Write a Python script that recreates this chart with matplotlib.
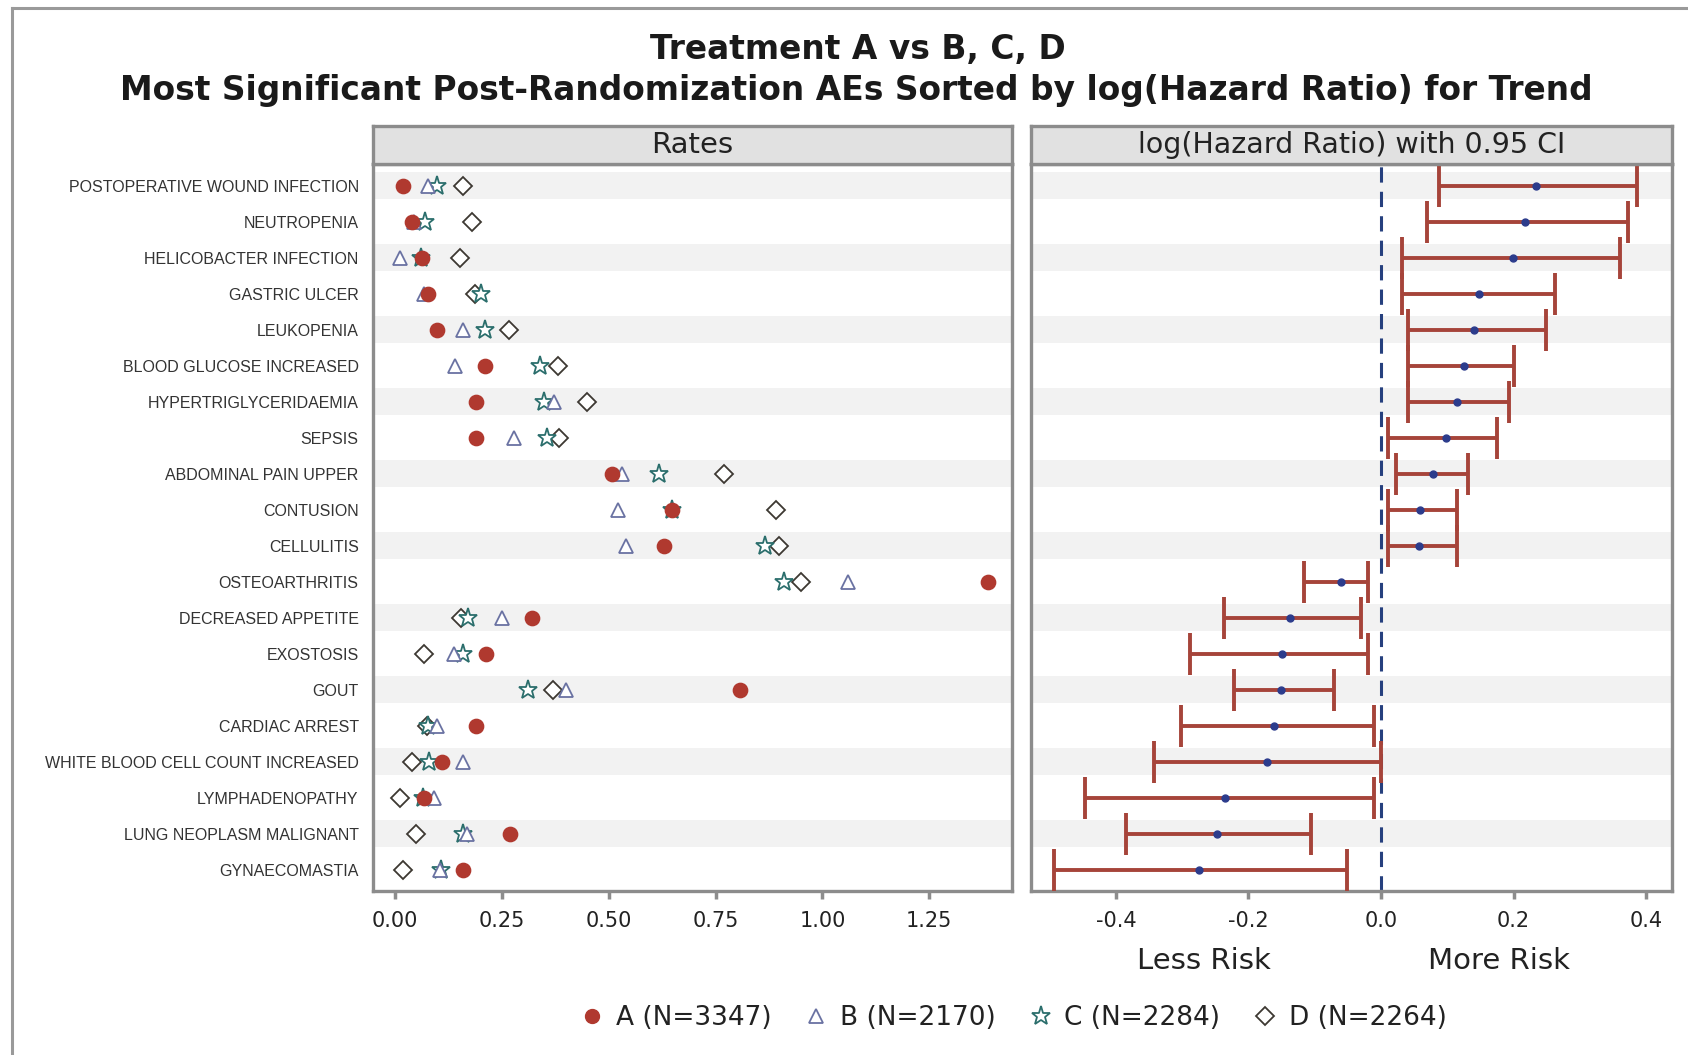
import numpy as np
import matplotlib
matplotlib.use("Agg")
import matplotlib.pyplot as plt
from matplotlib.lines import Line2D

# ---------------- data ----------------
labels = ["POSTOPERATIVE WOUND INFECTION", "NEUTROPENIA", "HELICOBACTER INFECTION",
          "GASTRIC ULCER", "LEUKOPENIA", "BLOOD GLUCOSE INCREASED",
          "HYPERTRIGLYCERIDAEMIA", "SEPSIS", "ABDOMINAL PAIN UPPER", "CONTUSION",
          "CELLULITIS", "OSTEOARTHRITIS", "DECREASED APPETITE", "EXOSTOSIS", "GOUT",
          "CARDIAC ARREST", "WHITE BLOOD CELL COUNT INCREASED", "LYMPHADENOPATHY",
          "LUNG NEOPLASM MALIGNANT", "GYNAECOMASTIA"]

rate_A = [0.018, 0.040, 0.062, 0.077, 0.098, 0.211, 0.189, 0.189, 0.508, 0.648,
          0.630, 1.388, 0.321, 0.212, 0.807, 0.188, 0.109, 0.067, 0.269, 0.159]
rate_B = [0.077, 0.045, 0.011, 0.067, 0.158, 0.141, 0.372, 0.279, 0.530, 0.522,
          0.540, 1.059, 0.249, 0.138, 0.400, 0.099, 0.158, 0.092, 0.167, 0.105]
rate_C = [0.099, 0.069, 0.060, 0.200, 0.211, 0.340, 0.349, 0.355, 0.618, 0.648,
          0.866, 0.909, 0.170, 0.159, 0.310, 0.077, 0.079, 0.065, 0.158, 0.108]
rate_D = [0.159, 0.180, 0.151, 0.187, 0.267, 0.382, 0.449, 0.384, 0.769, 0.891,
          0.899, 0.951, 0.154, 0.067, 0.369, 0.075, 0.040, 0.011, 0.049, 0.018]

hr_est = [0.234, 0.217, 0.199, 0.148, 0.141, 0.125, 0.115, 0.098, 0.078, 0.059,
          0.058, -0.060, -0.138, -0.150, -0.151, -0.161, -0.172, -0.235, -0.248, -0.274]
hr_lo = [0.088, 0.069, 0.032, 0.032, 0.041, 0.041, 0.041, 0.010, 0.022, 0.010,
         0.010, -0.116, -0.237, -0.288, -0.222, -0.302, -0.343, -0.446, -0.385, -0.494]
hr_hi = [0.387, 0.373, 0.361, 0.263, 0.249, 0.201, 0.193, 0.175, 0.131, 0.114,
         0.114, -0.019, -0.030, -0.019, -0.071, -0.010, 0.000, -0.010, -0.105, -0.051]

legend_labels = ["A (N=3347)", "B (N=2170)", "C (N=2284)", "D (N=2264)"]
rate_ticks = [0.0, 0.25, 0.5, 0.75, 1.0, 1.25]
hr_ticks = [-0.4, -0.2, 0.0, 0.2, 0.4]

# ---------------- style ----------------
plt.rcParams['font.family'] = ['DejaVu Sans']
FRAME = '#8c8c8c'
TXT = '#222222'
col_A = '#b0392f'
col_B = '#6a72a2'
col_C = '#2b6e6c'
col_D = '#3d3832'
BAND = '#f2f2f2'

fig = plt.figure(figsize=(16.88, 10.55), dpi=100)

ax1 = fig.add_axes([0.2207, 0.1551, 0.3789, 0.6895])
ax2 = fig.add_axes([0.6108, 0.1551, 0.3797, 0.6895])
y = np.arange(len(labels))

for ax in (ax1, ax2):
    ax.set_facecolor('white')
    for i in range(0, len(labels), 2):
        ax.axhspan(i - 0.37, i + 0.37, color=BAND, zorder=0, lw=0)
    ax.set_ylim(len(labels) - 0.4, -0.6)
    for s in ax.spines.values():
        s.set_color(FRAME)
        s.set_linewidth(2.4)
    ax.tick_params(axis='x', direction='out', length=6, width=2.5, color=FRAME,
                   labelcolor=TXT, labelsize=15, pad=8)

# left panel: rates
ms = dict(markeredgewidth=1.3, linestyle='none')
ax1.plot(rate_D, y, marker='D', ms=9, markerfacecolor='white', markeredgecolor=col_D, zorder=3, **ms)
ax1.plot(rate_C, y, marker='*', ms=14, markerfacecolor='white', markeredgecolor=col_C, zorder=4, **ms)
ax1.plot(rate_B, y, marker='^', ms=10, markerfacecolor='white', markeredgecolor=col_B, zorder=4, **ms)
ax1.plot(rate_A, y, marker='o', ms=10, markerfacecolor=col_A, markeredgecolor=col_A, zorder=5, **ms)
ax1.set_xlim(-0.053, 1.444)
ax1.set_xticks(rate_ticks)
ax1.set_xticklabels([f"{t:.2f}" for t in rate_ticks])
ax1.set_yticks(y)
ax1.set_yticklabels(labels, fontsize=11.5, color='#333333', family=['Liberation Sans', 'DejaVu Sans'])
ax1.tick_params(axis='y', length=0, pad=10)

# right panel: log hazard ratio
est = np.array(hr_est)
lo = np.array(hr_lo)
hi = np.array(hr_hi)
ax2.axvline(0, color='#26407e', lw=2.2, ls=(0, (5, 3)), zorder=2)
ax2.errorbar(est, y, xerr=[est - lo, hi - est], fmt='none', ecolor='#a6443a',
             elinewidth=2.8, capsize=15, capthick=2.8, zorder=3)
ax2.plot(est, y, 'o', ms=5, color='#2c3c8c', zorder=4)
ax2.set_xlim(-0.528, 0.439)
ax2.set_xticks(hr_ticks)
ax2.set_xticklabels([f"{abs(t):.1f}" if t == 0 else f"{t:.1f}" for t in hr_ticks])
ax2.set_yticks([])

# header strips
for ax, txt, fs in ((ax1, "Rates", 21), (ax2, "log(Hazard Ratio) with 0.95 CI", 20.5)):
    pos = ax.get_position()
    hx = fig.add_axes([pos.x0, pos.y1, pos.width, 0.036])
    hx.set_facecolor('#e1e1e1')
    hx.set_xticks([]); hx.set_yticks([])
    for s in hx.spines.values():
        s.set_color(FRAME)
        s.set_linewidth(2.4)
    hx.text(0.5, 0.5, txt, ha='center', va='center', fontsize=fs, color=TXT,
            transform=hx.transAxes)

# titles
fig.text(0.508, 0.953, "Treatment A vs B, C, D", ha='center', va='center',
         fontsize=23.7, fontweight='bold', color='#1a1a1a')
fig.text(0.507, 0.914, "Most Significant Post-Randomization AEs Sorted by log(Hazard Ratio) for Trend",
         ha='center', va='center', fontsize=23.7, fontweight='bold', color='#1a1a1a')

# risk labels
fig.text(0.713, 0.089, "Less Risk", ha='center', va='center', fontsize=21, color=TXT)
fig.text(0.888, 0.089, "More Risk", ha='center', va='center', fontsize=21, color=TXT)

# legend
handles = [
    Line2D([], [], marker='o', ms=10, markerfacecolor=col_A, markeredgecolor=col_A, ls='none'),
    Line2D([], [], marker='^', ms=10, markerfacecolor='white', markeredgecolor=col_B, mew=1.3, ls='none'),
    Line2D([], [], marker='*', ms=14, markerfacecolor='white', markeredgecolor=col_C, mew=1.3, ls='none'),
    Line2D([], [], marker='D', ms=9, markerfacecolor='white', markeredgecolor=col_D, mew=1.3, ls='none'),
]
leg = fig.legend(handles, legend_labels, loc='center', bbox_to_anchor=(0.600, 0.035), ncol=4,
                 frameon=False, fontsize=19, handletextpad=0.4, columnspacing=1.2,
                 handlelength=1.0)
for t in leg.get_texts():
    t.set_color(TXT)

# outer border (left and top)
fig.add_artist(Line2D([0.0071, 0.0071], [0.0, 0.9924], color='#9a9a9a', lw=2.2,
                      transform=fig.transFigure))
fig.add_artist(Line2D([0.0071, 1.0], [0.9924, 0.9924], color='#9a9a9a', lw=2.2,
                      transform=fig.transFigure))

fig.savefig("out.png", dpi=100, facecolor='white')
